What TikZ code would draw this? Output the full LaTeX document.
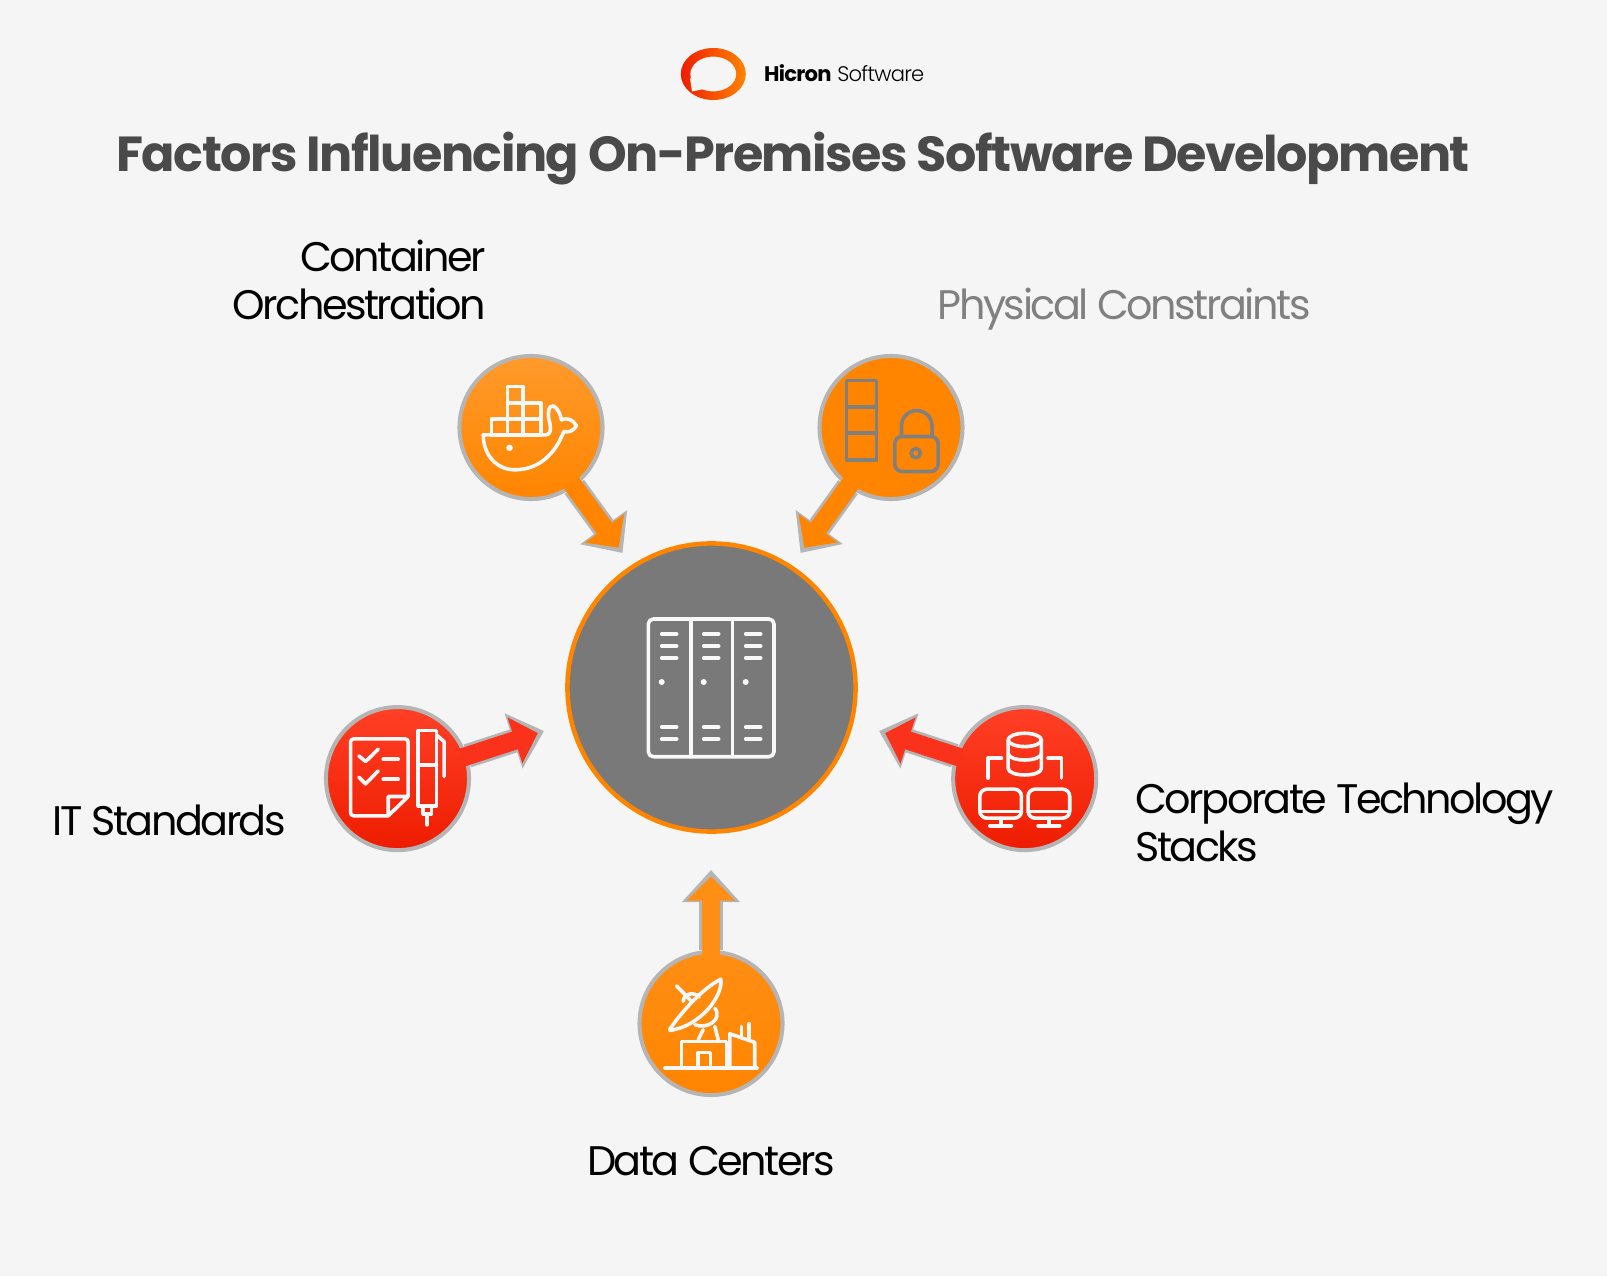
\documentclass[tikz,border=0pt]{standalone}
\usepackage{fontspec}
\setmainfont{Poppins}
\newfontfamily\labelfont[LetterSpace=-6]{Poppins}
\newfontfamily\titlefont[LetterSpace=-3]{Poppins}
\newfontfamily\logofont[LetterSpace=-3.5]{Poppins}
\newfontfamily\logolight[LetterSpace=-3.5]{Poppins Light}
\usetikzlibrary{arrows.meta,backgrounds}
\definecolor{pagebg}{RGB}{245,245,245}
\definecolor{titlegray}{RGB}{74,74,74}
\definecolor{ringgray}{RGB}{181,181,181}
\definecolor{hubgray}{RGB}{121,121,121}
\definecolor{dimtext}{RGB}{128,128,128}
\definecolor{orangefull}{RGB}{255,133,0}
\definecolor{orangesoft}{RGB}{255,154,43}
\definecolor{orangemid}{RGB}{255,142,20}
\definecolor{redsoft}{RGB}{255,64,38}
\definecolor{redlink}{RGB}{250,50,28}
\definecolor{reddeep}{RGB}{238,28,0}
\definecolor{iconwhite}{RGB}{248,248,248}
\tikzstyle{factor}=[circle, draw=ringgray, line width=0.04cm, minimum size=1.43cm, inner sep=0pt]
\tikzstyle{orangefactor}=[factor, top color=orangesoft, bottom color=orangefull]
\tikzstyle{redfactor}=[factor, top color=redsoft, bottom color=reddeep]
\tikzstyle{linkback}=[draw=ringgray, line width=0.24cm, -{Triangle[length=0.32cm,width=0.56cm]}]
\tikzstyle{linkfront}=[line width=0.185cm, shorten <=-0.06cm, shorten >=0.065cm, -{Triangle[length=0.24cm,width=0.47cm]}]
\tikzstyle{label}=[inner sep=0pt, font=\labelfont\fontsize{11.75}{13.5}\selectfont, text=black]
\tikzstyle{icon}=[draw=iconwhite, line width=0.036cm, line cap=round, line join=round]
\tikzstyle{zoomed}=[x=0.003333cm, y=-0.003333cm]
\begin{document}
\begin{tikzpicture}[x=0.01cm, y=-0.01cm]
    \useasboundingbox (0, 0) rectangle (1607, 1276);

    % logo and title
    \begin{pgfonlayer}{background}
        \fill[pagebg] (0, 0) rectangle (1607, 1276);
    \end{pgfonlayer}
    \shade[left color=reddeep, right color=orangefull, even odd rule]
        (713.3, 74) ellipse [x radius=32.5, y radius=26]
        (713.3, 74) ellipse [x radius=23, y radius=17.5];
    \fill[pagebg] (690, 78) -- (692, 91.5) -- (704, 89) -- cycle;
    \node[inner sep=0pt, anchor=base west, font=\fontsize{6}{7}\selectfont] (logotext) at (763.5, 81.7)
        {{\logofont\bfseries Hicron} {\logolight Software}};
    \node[inner sep=0pt, anchor=base, text=titlegray, font=\titlefont\fontsize{14}{16}\selectfont\bfseries] (title) at (793, 172)
        {Factors Influencing On-Premises Software Development};

    % hub
    \node[circle, draw=orangefull, fill=hubgray, line width=0.045cm, minimum size=2.88cm, inner sep=0pt] (hub) at (711.5, 687.5) {};
    \begin{scope}[icon]
        \draw[rounded corners=0.05cm] (648.3, 619) rectangle (774, 756.7);
        \draw (690.7, 619) -- (690.7, 756.7);
        \draw (732.3, 619) -- (732.3, 756.7);
        \foreach \dx in {0, 42, 84} {
            \foreach \dy in {634, 646, 658, 727, 739} {
                \draw (661.7+\dx, \dy) -- (676.7+\dx, \dy);
            }
            \fill[iconwhite] (661.7+\dx, 682) circle [radius=3];
        }
    \end{scope}

    % factors
    \node[orangefactor] (docker) at (531, 427.5) {};
    \node[factor, fill=orangefull] (physical) at (891, 427.5) {};
    \node[redfactor] (itstd) at (397.5, 778.6) {};
    \node[redfactor] (corpstack) at (1024.7, 778.6) {};
    \node[factor, top color=orangemid, bottom color=orangefull] (datacenter) at (711, 1023.5) {};

    \coordinate (dockertip) at (622.5, 553);
    \coordinate (physicaltip) at (800.5, 553);
    \coordinate (itstdtip) at (544, 731);
    \coordinate (corpstacktip) at (879, 731);
    \coordinate (datacentertip) at (711, 870);

    \begin{pgfonlayer}{background}
        \draw[linkback] (docker) -- (dockertip);
        \draw[linkback] (physical) -- (physicaltip);
        \draw[linkback] (itstd) -- (itstdtip);
        \draw[linkback] (corpstack) -- (corpstacktip);
        \draw[linkback] (datacenter) -- (datacentertip);
    \end{pgfonlayer}
    \draw[linkfront, draw=orangefull, fill=orangefull] (docker) -- (dockertip);
    \draw[linkfront, draw=orangefull, fill=orangefull] (physical) -- (physicaltip);
    \draw[linkfront, draw=redlink, fill=redlink] (itstd) -- (itstdtip);
    \draw[linkfront, draw=redlink, fill=redlink] (corpstack) -- (corpstacktip);
    \draw[linkfront, draw=orangemid, fill=orangemid] (datacenter) -- (datacentertip);

    % docker whale
    \begin{scope}[shift={(440, 340)}, zoomed, icon]
        \draw (203, 140) rectangle (250, 190);
        \draw (203, 190) rectangle (303, 238);
        \draw (250, 190) -- (250, 285);
        \draw (155, 238) rectangle (303, 285);
        \draw (203, 238) -- (203, 285);
        \draw (130, 285) -- (318, 285) .. controls (332, 285) and (334, 270) .. (330, 250)
            .. controls (322, 225) and (325, 195) .. (340, 198)
            .. controls (355, 205) and (362, 225) .. (365, 240)
            .. controls (385, 232) and (400, 240) .. (410, 258)
            .. controls (400, 275) and (385, 278) .. (372, 275)
            .. controls (345, 345) and (295, 390) .. (225, 390)
            .. controls (170, 390) and (130, 345) .. (130, 285) -- cycle;
        \fill[iconwhite] (209, 324) circle [radius=10];
    \end{scope}

    % rack and lock
    \begin{scope}[shift={(780, 340)}, zoomed, icon, draw=dimtext]
        \draw (200, 122) rectangle (290, 360);
        \draw (200, 202) -- (290, 202);
        \draw (200, 280) -- (290, 280);
        \draw[rounded corners=0.07cm] (345, 290) rectangle (475, 395);
        \draw (365, 290) -- (365, 258) arc [start angle=180, end angle=0, x radius=46, y radius=-46] -- (457, 290);
        \draw (408, 340) circle [radius=14];
    \end{scope}

    % checklist and pen
    \begin{scope}[shift={(310, 690)}, zoomed, icon]
        \draw[rounded corners=0.03cm] (235, 378) -- (122, 378) -- (122, 147) -- (295, 147) -- (295, 320);
        \draw (295, 320) -- (235, 378) -- (235, 320) -- cycle;
        \draw (147, 198) -- (167, 215) -- (205, 178);
        \draw (147, 262) -- (167, 282) -- (205, 243);
        \draw (220, 208) -- (265, 208);
        \draw (220, 268) -- (265, 268);
        \draw (325, 122) rectangle (380, 348);
        \draw (325, 225) -- (380, 225);
        \draw (380, 135) -- (403, 155) -- (403, 260);
        \draw (340, 348) -- (340, 372) -- (365, 372) -- (365, 348);
        \draw (352, 372) -- (352, 405);
    \end{scope}

    % database and monitors
    \begin{scope}[shift={(870, 690)}, zoomed, icon]
        \draw (465, 150) ellipse [x radius=50, y radius=20];
        \draw (415, 150) -- (415, 235) .. controls (415, 262) and (515, 262) .. (515, 235) -- (515, 150);
        \draw (415, 190) .. controls (415, 217) and (515, 217) .. (515, 190);
        \draw (355, 265) -- (355, 205) -- (395, 205);
        \draw (575, 265) -- (575, 205) -- (535, 205);
        \foreach \mx in {0, 145} {
            \draw[rounded corners=0.07cm] (330+\mx, 298) rectangle (455+\mx, 385);
            \draw (330+\mx, 365) -- (455+\mx, 365);
            \draw (393+\mx, 385) -- (393+\mx, 408);
            \draw (360+\mx, 408) -- (425+\mx, 408);
        }
    \end{scope}

    % dish and buildings
    \begin{scope}[shift={(620, 860)}, zoomed, icon]
        \draw (150, 508) .. controls (190, 450) and (250, 385) .. (303, 358)
            .. controls (310, 410) and (240, 500) .. (150, 512) -- cycle;
        \draw (170, 378) -- (215, 425);
        \draw (190, 425) .. controls (190, 400) and (225, 395) .. (238, 412);
        \draw (285, 445) .. controls (310, 480) and (260, 510) .. (225, 495);
        \draw (250, 510) -- (235, 540);
        \draw (285, 500) -- (295, 540);
        \draw (135, 625) -- (412, 625);
        \draw (185, 625) -- (185, 545) -- (320, 545) -- (320, 625);
        \draw (235, 625) -- (235, 578) -- (272, 578) -- (272, 625);
        \draw (330, 625) -- (330, 522) -- (405, 548) -- (405, 625);
        \draw (365, 530) -- (365, 500);
        \draw (388, 538) -- (388, 492);
    \end{scope}

    % labels
    \node[label, align=right, anchor=base east] (dockerlabel) at (486.5, 319) {Container\\Orchestration};
    \node[label, anchor=base west, text=dimtext] (physicallabel) at (937, 319) {Physical Constraints};
    \node[label, anchor=base west] (itstdlabel) at (52, 835) {IT Standards};
    \node[label, align=left, anchor=base west] (corpstacklabel) at (1134.5, 861) {Corporate Technology\\Stacks};
    \node[label, anchor=base] (datacenterlabel) at (711, 1175.5) {Data Centers};
\end{tikzpicture}
\end{document}
